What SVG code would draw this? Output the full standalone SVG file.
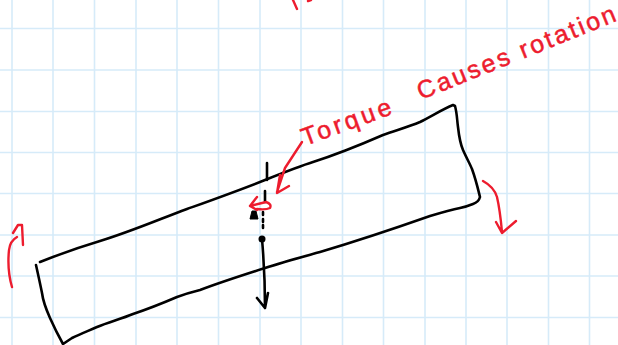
<svg xmlns="http://www.w3.org/2000/svg" width="618" height="345" viewBox="0 0 618 345">
<style>
.grid{stroke:#d6ebf9;stroke-width:1.6;fill:none}
.ink{stroke:#000;stroke-width:2.6;fill:none;stroke-linecap:round;stroke-linejoin:round}
.red{stroke:#ed1c2e;stroke-width:2.4;fill:none;stroke-linecap:round;stroke-linejoin:round}
.hand{fill:#ed1c2e;stroke:#ed1c2e;stroke-width:.5;font-family:"Liberation Sans",Arial,sans-serif;font-size:25px}
</style>
<rect width="618" height="345" fill="#fff"/>
<path class="grid" d="M12 0V345M53 0V345M94.500 0V345M136 0V345M177 0V345M218.500 0V345M260 0V345M301 0V345M342.500 0V345M383.500 0V345M425 0V345M466 0V345M507 0V345M548.500 0V345M589.500 0V345M0 28.500H618M0 70H618M0 111.500H618M0 152.500H618M0 193.500H618M0 235H618M0 276H618M0 317.500H618"/>
<g id="body">
<path class="ink" d="M40 262C60 254 80 247 100 241C130 232 160 219 187 209C212 200 240 190 265 180C285 172 300 166 313 162C335 155 360 145 383 135C397 130 408 127 420 122C432 116 443 109 453 105L455 106C457 113 457 120 458 127C459 136 460 143 463 150C467 159 470 164 472 169C476 180 478 189 480 197C479 201 476 203 473 204C468 206 465 207 460 208C450 210 440 213 430 216C393 229 357 241 320 252C302 257 283 262 265 268C243 275 221 282 200 290C192 292 185 294 177 297C163 303 148 309 133 314C121 319 109 322 97 327C88 331 80 334 72 338C69 340 66 342 63 344C58 335 54 327 50 318C46 309 43 301 42 293C40 283 38 274 36 265"/>
</g>
<g id="connectors">
<path class="ink" d="M267 163V180M265 191V202M263 212V215M263 219V222M263 225V228"/>
<circle cx="262" cy="239" r="3.500" fill="#000"/>
<path d="M250 219L252 211L256 211L258 219Z" fill="#000" stroke="#000"/>
<path class="ink" d="M262 239C264 262 265 285 265 307M257 298L265 308L268 293"/>
<path class="red" d="M257 197L250 206L257 210M250 206L266 202Q272 204 270 208Q266 210 257 209"/>
<path class="red" d="M302 142L285 168L277 192M280 175L277 193L289 186"/>
<path class="red" d="M12 287Q7 270 9 250Q10 241 17 237M13 233L18 225H22L23 245"/>
<path class="red" d="M483 181Q494 187 497 197Q500 210 502 232M496 222L502 233L516 221"/>
<path class="red" d="M293 0L297 9M308 1L311 0"/>
</g>
<g id="labels">
<text class="hand" transform="translate(305 146) rotate(-20)" textLength="94" lengthAdjust="spacing">Torque</text>
<text class="hand" transform="translate(421 100) rotate(-22)" textLength="212" lengthAdjust="spacing">Causes rotation</text>
</g>
</svg>
